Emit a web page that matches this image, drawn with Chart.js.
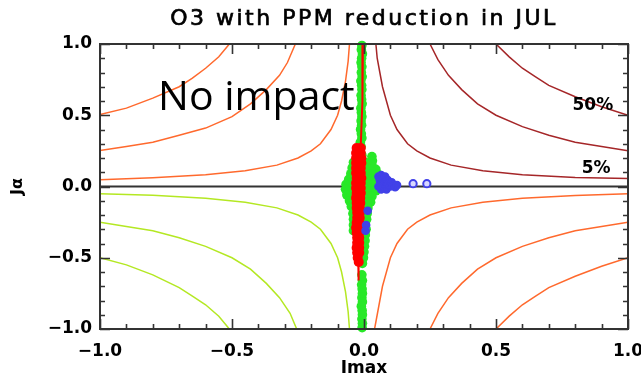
<!DOCTYPE html>
<html>
<head>
<meta charset="utf-8">
<script src="https://cdn.jsdelivr.net/npm/chart.js@4/dist/chart.umd.min.js"></script>
<style>
  html, body { margin: 0; padding: 0; background: #ffffff; }
  #wrap { width: 641px; height: 380px; }
</style>
</head>
<body>
<div id="wrap"><canvas id="c" width="641" height="380"></canvas></div>
<script>
// ---- text ----
const titleText = 'O3 with PPM reduction in JUL';
const xTitle = 'Imax';
const yTitle = 'J\u03b1';
const noteText = 'No impact';

// ---- axis ticks ----
const xTicks = [-1.0, -0.5, 0.0, 0.5, 1.0];
const yTicks = [-1.0, -0.5, 0.0, 0.5, 1.0];

// ---- contour lines, [Imax, Ja] ----
// upper right (dark red)
const ur50 = [[0.5,1.0],[0.55,0.91],[0.6,0.83],[0.65,0.77],[0.7,0.71],[0.8,0.63],[0.9,0.56],[1.0,0.5]];
const ur25 = [[0.25,1.0],[0.28,0.89],[0.32,0.78],[0.37,0.68],[0.43,0.58],[0.5,0.5],[0.6,0.42],[0.7,0.36],[0.8,0.31],[0.9,0.28],[1.0,0.25]];
const ur05 = [[0.045,1.0],[0.05,0.9],[0.06,0.8],[0.07,0.7],[0.085,0.6],[0.1,0.5],[0.125,0.4],[0.165,0.3],[0.2,0.25],[0.25,0.2],[0.33,0.15],[0.45,0.11],[0.6,0.083],[0.8,0.063],[1.0,0.056]];
// upper left (orange)
const ul50 = [[-0.51,1.0],[-0.55,0.91],[-0.6,0.83],[-0.65,0.76],[-0.7,0.7],[-0.8,0.62],[-0.9,0.55],[-1.0,0.505]];
const ul25 = [[-0.26,1.0],[-0.29,0.87],[-0.32,0.78],[-0.37,0.68],[-0.43,0.58],[-0.5,0.49],[-0.6,0.41],[-0.7,0.36],[-0.8,0.31],[-0.9,0.28],[-1.0,0.253]];
const ul05 = [[-0.055,1.0],[-0.06,0.88],[-0.07,0.74],[-0.085,0.6],[-0.1,0.5],[-0.125,0.4],[-0.165,0.3],[-0.2,0.25],[-0.25,0.2],[-0.33,0.15],[-0.45,0.11],[-0.6,0.083],[-0.8,0.062],[-1.0,0.047]];
// lower right (orange)
const lr50 = [[0.5,-1.0],[0.55,-0.91],[0.6,-0.83],[0.65,-0.77],[0.7,-0.71],[0.8,-0.63],[0.9,-0.56],[1.0,-0.5]];
const lr25 = [[0.25,-1.0],[0.28,-0.89],[0.32,-0.78],[0.37,-0.68],[0.43,-0.58],[0.5,-0.5],[0.6,-0.42],[0.7,-0.36],[0.8,-0.31],[0.9,-0.28],[1.0,-0.25]];
const lr05 = [[0.04,-1.0],[0.05,-0.9],[0.06,-0.8],[0.07,-0.7],[0.085,-0.6],[0.1,-0.5],[0.125,-0.4],[0.165,-0.3],[0.2,-0.25],[0.25,-0.2],[0.33,-0.15],[0.45,-0.11],[0.6,-0.083],[0.8,-0.063],[1.0,-0.05]];
// lower left (yellow-green)
const ll50 = [[-0.51,-1.0],[-0.55,-0.91],[-0.6,-0.83],[-0.65,-0.77],[-0.7,-0.71],[-0.8,-0.62],[-0.9,-0.55],[-1.0,-0.5]];
const ll25 = [[-0.255,-1.0],[-0.28,-0.89],[-0.32,-0.78],[-0.37,-0.68],[-0.43,-0.58],[-0.5,-0.5],[-0.6,-0.42],[-0.7,-0.36],[-0.8,-0.31],[-0.9,-0.28],[-1.0,-0.25]];
const ll05 = [[-0.055,-1.0],[-0.06,-0.88],[-0.07,-0.74],[-0.085,-0.6],[-0.1,-0.5],[-0.125,-0.4],[-0.165,-0.3],[-0.2,-0.25],[-0.25,-0.2],[-0.33,-0.15],[-0.45,-0.11],[-0.6,-0.083],[-0.8,-0.062],[-1.0,-0.05]];

// ---- reference line ----
const zeroLine = [[-1.0,0.0],[1.0,0.0]];

// ---- model points ----
const greenPts = [
  // upper column
  [-0.008,0.99],[-0.010,0.96],[-0.006,0.93],[-0.009,0.90],[-0.011,0.87],[-0.008,0.84],[-0.010,0.80],[-0.007,0.77],
  [-0.012,0.74],[-0.009,0.71],[-0.008,0.68],[-0.011,0.64],[-0.009,0.61],[-0.007,0.58],[-0.012,0.55],[-0.010,0.52],
  [-0.008,0.49],[-0.011,0.46],[-0.009,0.43],[-0.013,0.40],[-0.010,0.37],[-0.008,0.34],[-0.014,0.31],[-0.011,0.28],
  [-0.016,0.25],[-0.008,0.22],
  // spray to the upper right
  [0.03,0.21],[0.032,0.18],[0.03,0.15],[0.045,0.12],[0.05,0.09],
  // central cloud
  [-0.04,0.17],[-0.02,0.19],[0.005,0.17],[0.015,0.15],
  [-0.045,0.13],[-0.03,0.13],[0.01,0.13],[0.025,0.12],
  [-0.05,0.09],[-0.035,0.09],[0.005,0.09],[0.02,0.09],[0.035,0.08],
  [-0.058,0.05],[-0.045,0.05],[0.0,0.05],[0.015,0.05],[0.03,0.05],[0.045,0.05],[0.055,0.04],
  [-0.068,0.015],[-0.055,0.01],[0.0,0.01],[0.015,0.01],[0.03,0.01],[0.045,0.0],[0.058,0.02],
  [-0.07,-0.02],[-0.058,-0.03],[0.0,-0.03],[0.015,-0.03],[0.03,-0.03],[0.045,-0.03],
  [-0.065,-0.06],[-0.05,-0.07],[0.0,-0.07],[0.015,-0.07],[0.03,-0.07],
  [-0.055,-0.1],[-0.045,-0.11],[0.0,-0.11],[0.015,-0.11],[0.025,-0.11],
  [-0.048,-0.14],[-0.04,-0.15],[0.0,-0.15],[0.015,-0.15],
  [-0.042,-0.19],[0.0,-0.19],[0.012,-0.19],
  [-0.04,-0.23],[0.0,-0.23],[0.01,-0.23],
  [-0.04,-0.27],[0.002,-0.27],[0.008,-0.3],[-0.04,-0.31],
  [0.005,-0.34],[0.004,-0.38],[0.002,-0.42],[0.0,-0.46],[-0.002,-0.5],
  // lower column
  [-0.006,-0.54],[-0.008,-0.62],[-0.006,-0.66],[-0.009,-0.69],[-0.007,-0.72],[-0.006,-0.75],[-0.008,-0.78],
  [-0.006,-0.81],[-0.010,-0.84],[-0.007,-0.87],[-0.006,-0.90],[-0.008,-0.93],[-0.006,-0.96],[-0.007,-0.99]
];
const redPts = [
  [-0.028,0.27],[-0.012,0.27],[-0.030,0.235],[-0.012,0.235],[-0.030,0.2],[-0.010,0.2],[-0.030,0.165],[-0.010,0.165],
  [-0.030,0.13],[-0.012,0.13],[-0.030,0.095],[-0.012,0.095],[-0.028,0.06],[-0.010,0.06],[-0.030,0.025],[-0.012,0.025],
  [-0.030,-0.01],[-0.012,-0.01],[-0.028,-0.045],[-0.012,-0.045],[-0.030,-0.08],[-0.014,-0.08],[-0.028,-0.115],[-0.014,-0.115],
  [-0.028,-0.15],[-0.016,-0.15],[-0.026,-0.185],[-0.016,-0.185],[-0.026,-0.22],[-0.016,-0.22],[-0.028,-0.255],[-0.018,-0.255],
  [-0.030,-0.29],[-0.018,-0.29],[-0.028,-0.325],[-0.018,-0.325],[-0.026,-0.36],[-0.018,-0.36],[-0.026,-0.395],[-0.018,-0.395],
  [-0.028,-0.43],[-0.018,-0.43],[-0.026,-0.465],[-0.018,-0.465],[-0.024,-0.5],[-0.02,-0.53]
];
const redTrailTop = [[-0.004,1.0],[-0.005,0.8],[-0.007,0.6],[-0.009,0.45],[-0.012,0.3]];
const redTrailBottom = [[-0.022,-0.5],[-0.021,-0.58],[-0.020,-0.66]];
const blueCluster = [
  [0.055,0.07],[0.06,0.045],[0.065,0.08],[0.062,0.02],[0.07,0.055],[0.072,0.0],[0.078,0.035],[0.08,0.07],
  [0.085,0.015],[0.085,-0.02],[0.09,0.045],[0.095,0.02],[0.1,0.0],[0.105,0.03],[0.11,0.01],[0.118,-0.005],
  [0.125,0.01],[0.065,-0.02],[0.055,0.0],
  [0.014,-0.17],[0.008,-0.27],[0.006,-0.31]
];
const blueOutliers = [[0.186,0.02],[0.238,0.02]];

// ---- level labels, anchored in data space ----
const levelLabels = ['50%', '5%'];
const levelLabelX = [0.867, 0.879];
const levelLabelY = [0.568, 0.126];
const noteX = -0.78;
const noteY = 0.535;

// ---- colours ----
const ORANGE = 'rgb(255,105,45)';
const DARKRED = 'rgb(165,38,40)';
const YGREEN = 'rgb(180,232,35)';
const GREEN = 'rgb(40,232,40)';
const RED = 'rgb(255,0,0)';
const BLUE = 'rgb(65,65,232)';
const AXIS = '#333333';

const toPts = a => a.map(([x, y]) => ({ x, y }));
const fmt = v => (Math.abs(v) < 1e-9 ? '0.0' : v.toFixed(1).replace('-', '\u2212'));

function contour(arr, color) {
  return { data: toPts(arr), showLine: true, borderColor: color, borderWidth: 1.5,
           pointRadius: 0, fill: false, order: 10, tension: 0 };
}

const datasets = [
  contour(ur50, DARKRED), contour(ur25, DARKRED), contour(ur05, DARKRED),
  contour(ul50, ORANGE), contour(ul25, ORANGE), contour(ul05, ORANGE),
  contour(lr50, ORANGE), contour(lr25, ORANGE), contour(lr05, ORANGE),
  contour(ll50, YGREEN), contour(ll25, YGREEN), contour(ll05, YGREEN),
  { data: toPts(zeroLine), showLine: true, borderColor: AXIS, borderWidth: 1.8, pointRadius: 0, order: 9 },
  { data: toPts(greenPts), showLine: false, pointRadius: 4.8, pointBorderWidth: 0,
    backgroundColor: GREEN, borderColor: GREEN, order: 4, clip: false },
  { data: toPts(redTrailTop), showLine: true, borderColor: RED, borderWidth: 2, pointRadius: 0, order: 3 },
  { data: toPts(redTrailBottom), showLine: true, borderColor: RED, borderWidth: 2, pointRadius: 0, order: 3 },
  { data: toPts(redPts), showLine: false, pointRadius: 5, pointBorderWidth: 0,
    backgroundColor: RED, borderColor: RED, order: 2 },
  { data: toPts(blueCluster), showLine: false, pointRadius: 3.6, pointBorderWidth: 1.5,
    backgroundColor: BLUE, borderColor: BLUE, order: 1 },
  { data: toPts(blueOutliers), showLine: false, pointRadius: 3.6, pointBorderWidth: 2,
    backgroundColor: 'rgb(215,215,255)', borderColor: BLUE, order: 1 }
];

// frame, inward tick marks and all free text
const decorations = {
  id: 'decorations',
  afterDatasetsDraw(chart) {
    const { ctx, chartArea: a, scales: { x, y } } = chart;
    ctx.save();
    ctx.strokeStyle = AXIS;
    ctx.lineWidth = 1.6;
    for (let i = -10; i <= 10; i++) {
      const v = i / 10;
      const len = (i % 5 === 0) ? 10 : 5;
      const px = Math.round(x.getPixelForValue(v)) + 0.5;
      const py = Math.round(y.getPixelForValue(v)) + 0.5;
      ctx.beginPath();
      ctx.moveTo(px, a.bottom); ctx.lineTo(px, a.bottom - len);
      ctx.moveTo(px, a.top); ctx.lineTo(px, a.top + len);
      ctx.moveTo(a.left, py); ctx.lineTo(a.left + len, py);
      ctx.moveTo(a.right, py); ctx.lineTo(a.right - len, py);
      ctx.stroke();
    }
    ctx.lineWidth = 2;
    ctx.strokeRect(a.left, a.top, a.right - a.left, a.bottom - a.top);

    // level labels
    ctx.fillStyle = '#000';
    ctx.font = 'bold 17px "DejaVu Sans"';
    ctx.textAlign = 'center';
    ctx.textBaseline = 'middle';
    levelLabels.forEach((t, i) => {
      ctx.fillText(t, x.getPixelForValue(levelLabelX[i]), y.getPixelForValue(levelLabelY[i]));
    });

    // annotation
    ctx.font = '41px "Open Sans"';
    ctx.textAlign = 'left';
    ctx.textBaseline = 'alphabetic';
    ctx.fillText(noteText, x.getPixelForValue(noteX), y.getPixelForValue(noteY));

    // title
    const cx = (a.left + a.right) / 2;
    ctx.font = '22px "DejaVu Sans"';
    ctx.letterSpacing = '2.5px';
    ctx.textAlign = 'center';
    ctx.textBaseline = 'middle';
    ctx.strokeStyle = '#000';
    ctx.lineWidth = 0.7;
    ctx.fillText(titleText, cx, 19);
    ctx.strokeText(titleText, cx, 19);
    ctx.letterSpacing = '0px';

    // axis titles
    ctx.font = 'bold 17px "DejaVu Sans"';
    ctx.fillText(xTitle, cx, 369);
    ctx.save();
    ctx.translate(18, (a.top + a.bottom) / 2);
    ctx.rotate(-Math.PI / 2);
    ctx.font = 'bold 16px "DejaVu Sans"';
    ctx.fillText(yTitle, 0, 0);
    ctx.restore();
    ctx.restore();
  }
};

const tickFont = { family: 'DejaVu Sans', size: 17, weight: 'bold' };

new Chart(document.getElementById('c'), {
  type: 'scatter',
  data: { datasets },
  options: {
    responsive: false,
    animation: false,
    events: [],
    layout: { padding: { left: 0, right: 13, top: 44, bottom: 0 } },
    plugins: { legend: { display: false }, tooltip: { enabled: false }, title: { display: false } },
    scales: {
      x: {
        type: 'linear', min: -1, max: 1,
        afterBuildTicks: s => { s.ticks = xTicks.map(v => ({ value: v })); },
        afterFit: s => { s.height = 51; s.paddingLeft = 0; s.paddingRight = 0; },
        grid: { display: false, drawTicks: false },
        border: { display: false },
        ticks: { font: tickFont, color: '#000', padding: 12, maxRotation: 0, callback: v => fmt(v) }
      },
      y: {
        type: 'linear', min: -1, max: 1,
        afterBuildTicks: s => { s.ticks = yTicks.map(v => ({ value: v })); },
        afterFit: s => { s.width = 100; s.paddingTop = 0; s.paddingBottom = 0; },
        grid: { display: false, drawTicks: false },
        border: { display: false },
        ticks: { font: tickFont, color: '#000', padding: 8, callback: v => fmt(v) }
      }
    }
  },
  plugins: [decorations]
});
</script>
</body>
</html>
